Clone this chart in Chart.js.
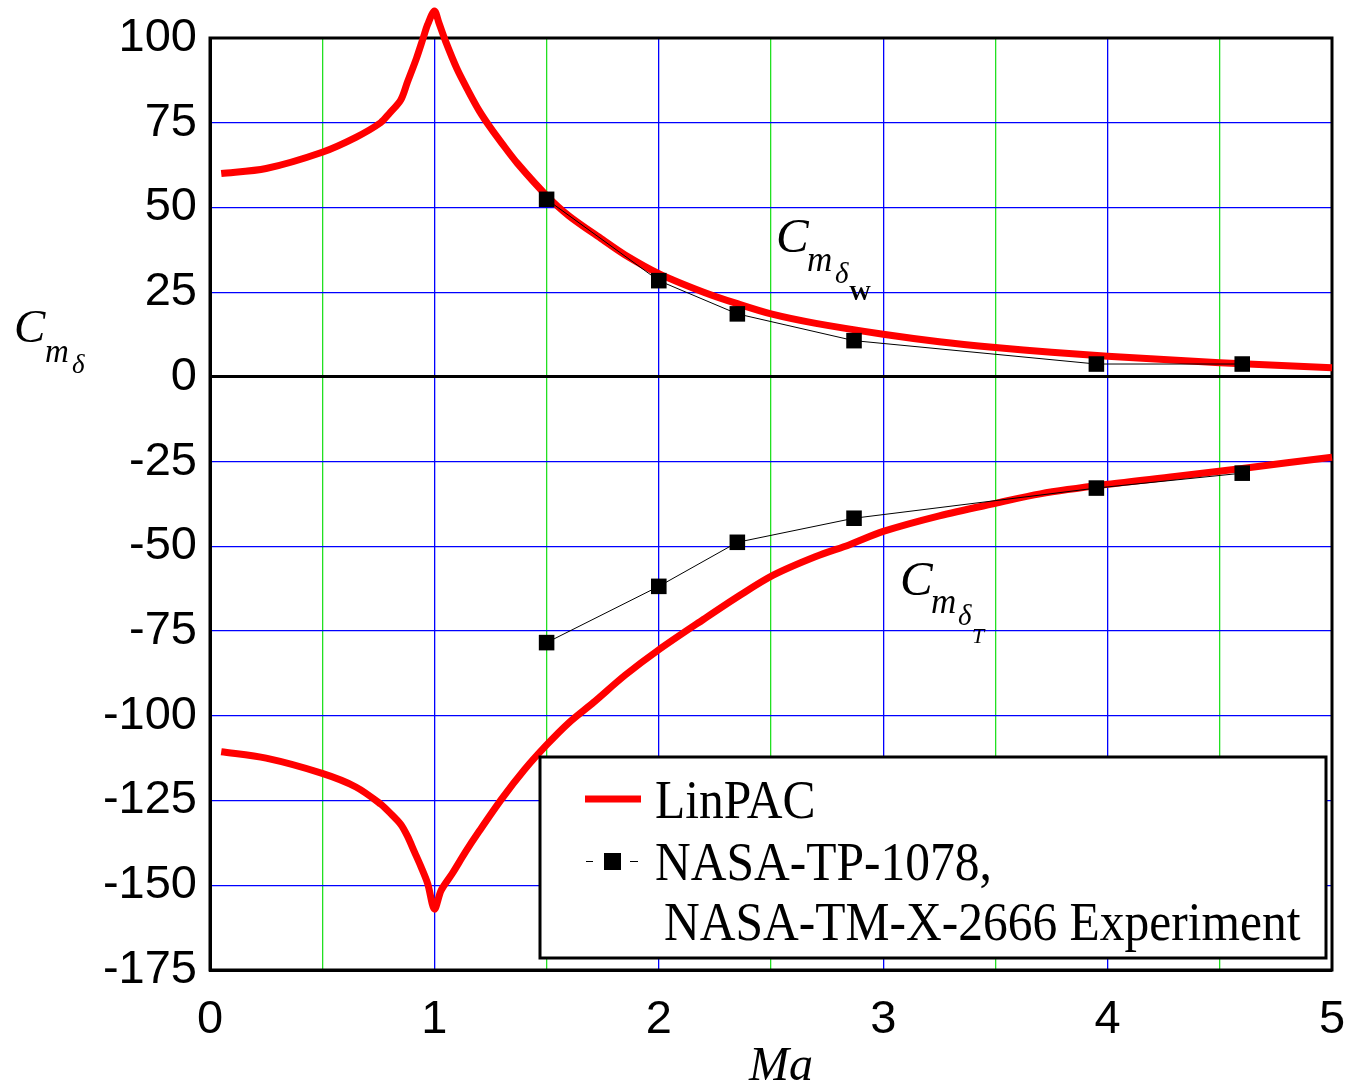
<!DOCTYPE html>
<html>
<head>
<meta charset="utf-8">
<script src="https://cdn.jsdelivr.net/npm/chart.js@4.4.1/dist/chart.umd.min.js"></script>
<style>
  html, body { margin: 0; padding: 0; background: #fff; }
  canvas { display: block; }
</style>
</head>
<body>
<canvas id="myChart" width="1348" height="1087"></canvas>
<script>
  // LinPAC curves
  const machUpper = [0.05, 0.25, 0.5, 0.65, 0.76, 0.8, 0.85, 0.88, 0.92, 0.95, 0.97, 1.0, 1.02, 1.05, 1.1, 1.15, 1.2, 1.25, 1.3, 1.37, 1.5, 1.6, 1.75, 1.85, 2.0, 2.2, 2.35, 2.5, 2.7, 3.0, 3.25, 3.5, 3.75, 4.0, 4.5, 5.0];
  const cmWing    = [60.0, 61.5, 66.3, 70.7, 75.0, 77.8, 81.7, 87.0, 94.0, 100.0, 104.0, 108.0, 104.5, 99.0, 91.0, 84.5, 78.5, 73.5, 69.0, 63.0, 53.5, 47.5, 40.5, 36.0, 30.5, 25.0, 21.6, 18.6, 15.8, 12.6, 10.4, 8.7, 7.3, 6.1, 4.2, 2.7];

  const machLower = [0.05, 0.25, 0.5, 0.65, 0.76, 0.8, 0.85, 0.88, 0.91, 0.94, 0.97, 1.0, 1.03, 1.08, 1.14, 1.2, 1.3, 1.4, 1.5, 1.6, 1.71, 1.85, 2.0, 2.2, 2.36, 2.51, 2.7, 2.85, 3.0, 3.25, 3.5, 3.7, 4.0, 4.3, 4.6, 5.0];
  const cmTail    = [-110.6, -112.5, -117, -121, -126, -128.5, -132, -135.5, -140, -144.5, -149.5, -157, -151.5, -146.5, -140, -134, -124.5, -116, -108.6, -102, -96, -88, -80.5, -71.5, -64.5, -58.5, -53, -49.5, -45.6, -41, -37.3, -34.5, -31.7, -29.4, -27, -23.7];

  // NASA-TP-1078 / NASA-TM-X-2666 experiment
  const machExp = [1.5, 2.0, 2.35, 2.87, 3.95, 4.6];
  const expWing = [52.4, 28.4, 18.6, 10.7, 3.8, 3.8];
  const expTail = [-78.4, -61.8, -48.8, -41.7, -32.8, -28.4];

  const xTicks = [0, 1, 2, 3, 4, 5];
  const yTicks = [100, 75, 50, 25, 0, -25, -50, -75, -100, -125, -150, -175];

  const BLUE = '#0000ff';
  const GREEN = '#22e022';
  const SERIF = '"Liberation Serif", "Times New Roman", serif';
  const SANS = '"Liberation Sans", Arial, sans-serif';

  function pts(xs, ys) {
    return xs.map(function (x, i) { return { x: x, y: ys[i] }; });
  }

  // text with subscripts: parts = [[text, font, dx, baselineY], ...]
  function drawParts(ctx, x, parts) {
    parts.forEach(function (p) {
      ctx.font = p[1];
      ctx.fillText(p[0], x + p[2], p[3]);
    });
  }

  // legend text is a bit taller than it is wide
  function tallText(ctx, txt, x, y) {
    ctx.save();
    ctx.translate(x, y);
    ctx.scale(1, 1.12);
    ctx.fillText(txt, 0, 0);
    ctx.restore();
  }

  const decorations = {
    id: 'decorations',
    beforeDatasetsDraw: function (chart) {
      const ctx = chart.ctx, a = chart.chartArea;
      ctx.save();
      ctx.strokeStyle = '#000';
      ctx.lineWidth = 3;
      ctx.strokeRect(a.left, a.top, a.right - a.left, a.bottom - a.top);
      ctx.restore();
    },
    afterDatasetsDraw: function (chart) {
      const ctx = chart.ctx;
      ctx.save();
      ctx.fillStyle = '#000';
      ctx.textBaseline = 'alphabetic';
      ctx.textAlign = 'left';

      // y axis title
      drawParts(ctx, 14, [
        ['C', 'italic 47px ' + SERIF, 0, 342],
        ['m', 'italic 33px ' + SERIF, 31, 362],
        ['\u03B4', 'italic 27px ' + SERIF, 58, 373]
      ]);
      // x axis title
      ctx.font = 'italic 48px ' + SERIF;
      ctx.textAlign = 'center';
      ctx.fillText('Ma', 781, 1080);
      ctx.textAlign = 'left';

      // curve labels
      drawParts(ctx, 776, [
        ['C', 'italic 49px ' + SERIF, 0, 252],
        ['m', 'italic 35px ' + SERIF, 31, 271],
        ['\u03B4', 'italic 29px ' + SERIF, 59, 283],
        ['W', 'bold 22px ' + SERIF, 73, 300]
      ]);
      drawParts(ctx, 900, [
        ['C', 'italic 49px ' + SERIF, 0, 595],
        ['m', 'italic 35px ' + SERIF, 31, 613],
        ['\u03B4', 'italic 29px ' + SERIF, 58, 625],
        ['T', 'italic 22px ' + SERIF, 72, 643]
      ]);

      // legend box
      ctx.fillStyle = '#fff';
      ctx.fillRect(540, 757, 786, 201);
      ctx.strokeStyle = '#000';
      ctx.lineWidth = 3;
      ctx.strokeRect(540, 757, 786, 201);

      ctx.strokeStyle = '#ff0000';
      ctx.lineWidth = 7;
      ctx.beginPath();
      ctx.moveTo(585, 799);
      ctx.lineTo(641, 799);
      ctx.stroke();

      ctx.strokeStyle = '#000';
      ctx.lineWidth = 1;
      ctx.beginPath();
      ctx.moveTo(586, 861.5); ctx.lineTo(593, 861.5);
      ctx.moveTo(630, 861.5); ctx.lineTo(638, 861.5);
      ctx.stroke();
      ctx.fillStyle = '#000';
      ctx.fillRect(604, 853, 17, 17);

      ctx.font = '49.5px ' + SERIF;
      tallText(ctx, 'LinPAC', 655, 818);
      tallText(ctx, 'NASA-TP-1078,', 655, 880);
      tallText(ctx, 'NASA-TM-X-2666 Experiment', 664, 940);
      ctx.restore();
    }
  };

  const data = {
    datasets: [
      {
        label: 'NASA-TP-1078, NASA-TM-X-2666 Experiment',
        data: pts(machExp, expWing),
        borderColor: '#000',
        backgroundColor: '#000',
        borderWidth: 1,
        pointStyle: 'rect',
        pointRadius: 11,
        pointBorderWidth: 0,
        order: 0
      },
      {
        label: 'NASA tail',
        data: pts(machExp, expTail),
        borderColor: '#000',
        backgroundColor: '#000',
        borderWidth: 1,
        pointStyle: 'rect',
        pointRadius: 11,
        pointBorderWidth: 0,
        order: 0
      },
      {
        label: 'LinPAC',
        data: pts(machUpper, cmWing),
        borderColor: '#ff0000',
        borderWidth: 7,
        pointRadius: 0,
        tension: 0.3,
        clip: false,
        order: 1
      },
      {
        label: 'LinPAC tail',
        data: pts(machLower, cmTail),
        borderColor: '#ff0000',
        borderWidth: 7,
        pointRadius: 0,
        tension: 0.3,
        clip: false,
        order: 1
      }
    ]
  };

  const config = {
    type: 'line',
    data: data,
    options: {
      responsive: false,
      animation: false,
      devicePixelRatio: 1,
      layout: { padding: { top: 38, right: 16, left: 0, bottom: 0 } },
      plugins: {
        legend: { display: false },
        tooltip: { enabled: false }
      },
      scales: {
        x: {
          type: 'linear',
          min: 0,
          max: 5,
          afterBuildTicks: function (s) {
            const t = [];
            for (let i = 0; i < xTicks.length; i++) {
              t.push({ value: xTicks[i] });
              if (i < xTicks.length - 1) t.push({ value: xTicks[i] + 0.5 });
            }
            s.ticks = t;
          },
          afterFit: function (s) {
            s.height = 117;
            s.paddingLeft = 0;
            s.paddingRight = 0;
          },
          ticks: {
            autoSkip: false,
            maxRotation: 0,
            padding: 22,
            color: '#000',
            font: { family: SANS, size: 47 },
            callback: function (v) { return xTicks.indexOf(v) >= 0 ? String(v) : ''; }
          },
          grid: {
            drawTicks: false,
            lineWidth: 1.3,
            color: function (c) { return c.tick && c.tick.value % 1 === 0 ? BLUE : GREEN; }
          },
          border: { color: '#000', width: 3 }
        },
        y: {
          type: 'linear',
          min: -175,
          max: 100,
          afterBuildTicks: function (s) {
            s.ticks = yTicks.map(function (v) { return { value: v }; });
          },
          afterFit: function (s) {
            s.width = 210;
            s.paddingTop = 0;
            s.paddingBottom = 0;
          },
          ticks: {
            padding: 13,
            color: '#000',
            font: { family: SANS, size: 47 }
          },
          grid: {
            drawTicks: false,
            lineWidth: function (c) { return c.tick && c.tick.value === 0 ? 3 : 1.3; },
            color: function (c) { return c.tick && c.tick.value === 0 ? '#000' : BLUE; }
          },
          border: { color: '#000', width: 3 }
        }
      }
    },
    plugins: [decorations]
  };

  const myChart = new Chart(
    document.getElementById('myChart'),
    config
  );
</script>
</body>
</html>
